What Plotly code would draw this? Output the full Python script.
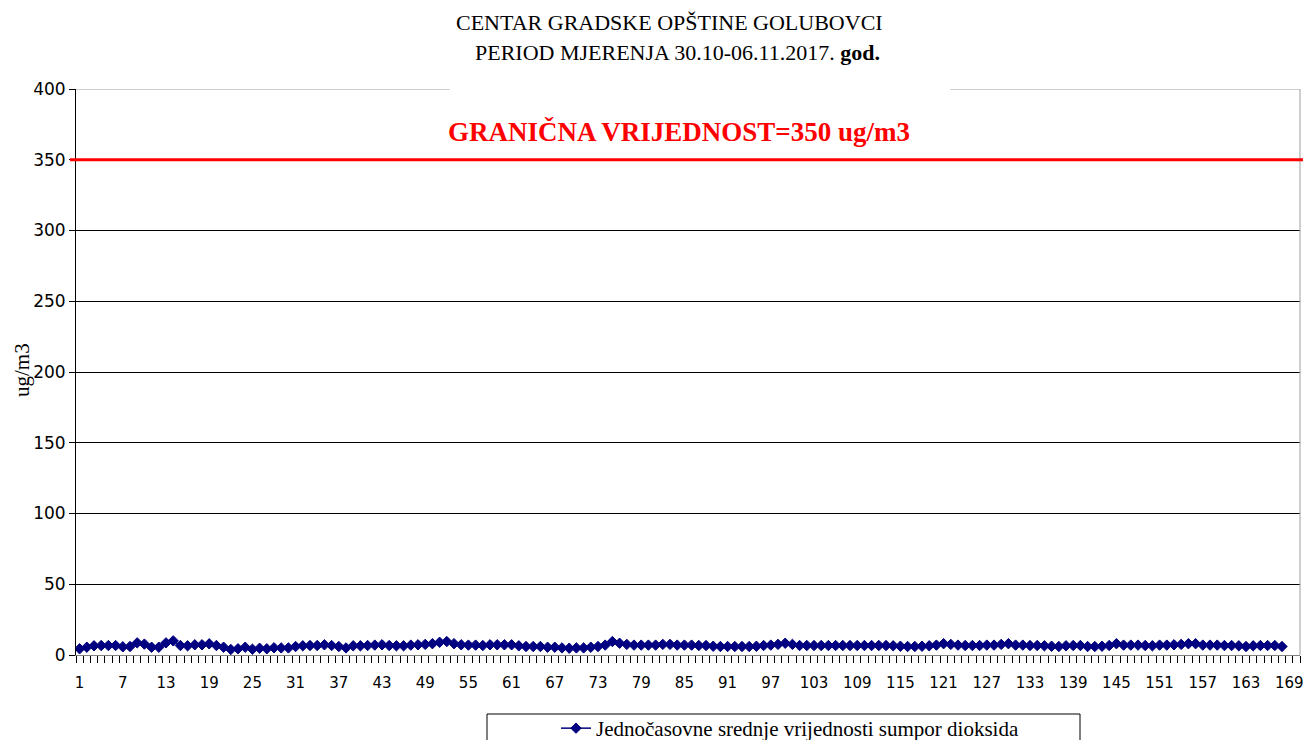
import plotly.graph_objects as go

hours = list(range(1, 169))
so2 = [4.4, 5.5, 6.5, 6.7, 6.7, 6.7, 5.8, 6.0, 8.6, 7.7, 5.5, 5.5, 8.6, 10.0, 6.7, 6.5, 7.2, 7.2, 7.9, 6.7, 5.5, 3.9, 4.4, 5.5, 4.1, 4.8, 4.4, 5.1,
       5.0, 5.0, 6.0, 6.5, 6.7, 6.7, 7.2, 6.7, 6.0, 5.0, 6.5, 6.5, 6.7, 7.0, 7.2, 6.7, 6.5, 6.5, 7.0, 7.2, 7.5, 8.0, 9.0, 9.5, 8.0, 7.2, 7.0, 7.0,
       6.7, 7.2, 7.2, 7.2, 7.2, 6.5, 6.0, 6.0, 6.0, 5.5, 5.5, 5.0, 4.8, 5.0, 5.0, 5.5, 6.0, 7.0, 9.5, 8.3, 7.5, 7.0, 7.0, 7.0, 7.0, 7.5, 7.5, 7.0,
       7.0, 7.0, 6.7, 6.7, 6.2, 6.0, 6.0, 6.0, 6.0, 6.0, 6.2, 6.7, 7.0, 7.5, 8.3, 7.5, 6.7, 6.7, 6.7, 6.7, 6.7, 6.7, 6.7, 6.7, 6.7, 6.7, 6.7, 6.7,
       6.7, 6.5, 6.2, 6.0, 6.0, 6.2, 6.5, 7.0, 8.0, 7.5, 7.0, 6.7, 6.7, 6.7, 7.0, 7.0, 7.5, 8.0, 7.0, 7.0, 6.7, 6.7, 6.5, 6.2, 6.0, 6.5, 6.7, 6.7,
       6.0, 6.0, 6.2, 6.7, 8.0, 7.0, 7.0, 7.0, 6.7, 6.5, 7.0, 7.0, 7.2, 7.5, 8.0, 8.0, 7.0, 7.0, 7.0, 6.7, 6.7, 6.5, 6.0, 6.5, 6.7, 6.7, 6.7, 6.0]
x_tick_labels = list(range(1, 170, 6))
y_ticks = [0, 50, 100, 150, 200, 250, 300, 350, 400]
limit_value = 350

title_line1 = "CENTAR GRADSKE OPŠTINE GOLUBOVCI"
title_line2 = "PERIOD MJERENJA 30.10-06.11.2017. <b>god.</b>"
limit_text = "GRANIČNA VRIJEDNOST=350 ug/m3"
series_name = "Jednočasovne srednje vrijednosti sumpor dioksida"

W, H = 1303, 740
L, R, T, B = 76, 1300, 89, 655   # plot area in screen pixels
pw, ph = R - L, B - T

def px(x):
    return (x - L) / pw

def py(y):
    return (B - y) / ph

serif = "Liberation Serif"
sans = "DejaVu Sans"

fig = go.Figure()
fig.add_trace(go.Scatter(
    x=hours, y=so2, mode="lines+markers", name=series_name,
    line=dict(color="#000080", width=1.5),
    marker=dict(symbol="diamond", size=8, color="#000080", line=dict(color="#000080", width=1)),
))

shapes = [
    dict(type="line", xref="paper", yref="y", x0=0, x1=1, y0=400, y1=400,
         line=dict(color="white", width=2), layer="above"),
    dict(type="line", xref="paper", yref="y", x0=0, x1=px(450), y0=400, y1=400,
         line=dict(color="#a0a0a0", width=1), layer="above"),
    dict(type="line", xref="paper", yref="y", x0=px(950), x1=1, y0=400, y1=400,
         line=dict(color="#a0a0a0", width=1), layer="above"),
    dict(type="line", xref="paper", yref="y", x0=1, x1=1, y0=0, y1=400,
         line=dict(color="#a0a0a0", width=1), layer="above"),
    dict(type="line", xref="paper", yref="y", x0=px(70), x1=px(1303), y0=limit_value, y1=limit_value,
         line=dict(color="#ff0000", width=3), layer="above"),
    dict(type="rect", xref="paper", yref="paper", x0=px(487), x1=px(1080), y0=py(746), y1=py(714),
         line=dict(color="black", width=1), fillcolor="white", layer="below"),
]

annotations = [
    dict(text=title_line1, x=px(669), y=py(22), xref="paper", yref="paper", showarrow=False,
         xanchor="center", yanchor="middle", font=dict(family=serif, size=22, color="black")),
    dict(text=title_line2, x=px(677), y=py(53), xref="paper", yref="paper", showarrow=False,
         xanchor="center", yanchor="middle", font=dict(family=serif, size=22, color="black")),
    dict(text="<b>" + limit_text + "</b>", x=px(679), y=py(132), xref="paper", yref="paper", showarrow=False,
         xanchor="center", yanchor="middle", font=dict(family=serif, size=27, color="#ff0000")),
    dict(text="ug/m3", x=px(22), y=py(370), xref="paper", yref="paper", showarrow=False,
         textangle=-90, xanchor="center", yanchor="middle", font=dict(family=serif, size=21, color="black")),
]

fig.update_layout(
    width=W, height=H,
    margin=dict(l=L, r=W - R, t=T, b=H - B, pad=0, autoexpand=False),
    paper_bgcolor="white", plot_bgcolor="white",
    showlegend=True,
    legend=dict(xref="container", yref="container", x=556 / W, y=1 - 708 / H,
                xanchor="left", yanchor="top", bgcolor="rgba(0,0,0,0)",
                font=dict(family=serif, size=21, color="black"), borderwidth=0),
    shapes=shapes, annotations=annotations,
    xaxis=dict(range=[0.5, 170.5], tickvals=x_tick_labels, ticktext=[str(v) for v in x_tick_labels],
               ticks="", showgrid=False, zeroline=False, automargin=False,
               ticklabeloverflow="allow", ticklabelstandoff=14,
               showline=True, linecolor="#808080", linewidth=1,
               tickfont=dict(family=sans, size=15, color="black"),
               minor=dict(tick0=0.5, dtick=1, ticks="outside", ticklen=7, tickcolor="black", tickwidth=1, showgrid=False)),
    yaxis=dict(range=[0, 400], tickvals=y_ticks, ticks="outside", ticklen=6, tickcolor="black",
               showgrid=True, gridcolor="black", gridwidth=1, zeroline=False, automargin=False,
               showline=True, linecolor="black", linewidth=1,
               tickfont=dict(family=sans, size=17, color="black")),
)

fig.write_html("out.html", config={"displayModeBar": False},
               post_script="document.body.style.margin='0';document.body.style.overflow='hidden';")
